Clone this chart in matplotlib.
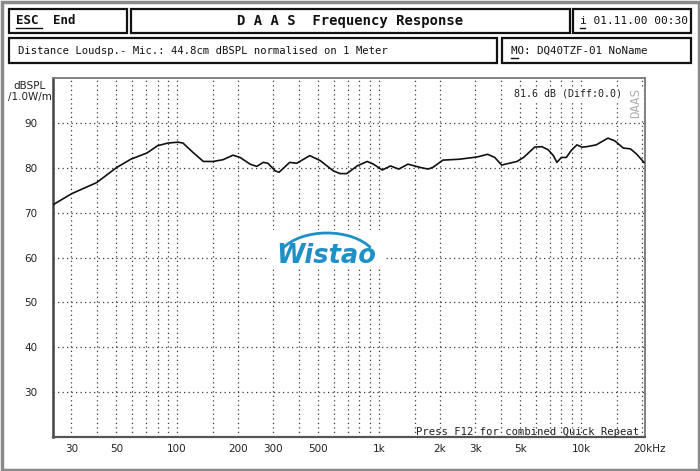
import matplotlib
matplotlib.use("Agg")
import matplotlib.pyplot as plt
from matplotlib.patches import Rectangle, Arc
from matplotlib.ticker import FixedLocator, NullFormatter
import matplotlib.transforms as mtransforms

# ---- data ----
freqs = [24.4, 30, 40, 50, 59, 71, 80, 90, 101, 107, 120, 135, 151, 169, 189,
         205, 230, 248, 267, 282, 306, 320, 361, 391, 454, 511, 594, 641, 693,
         779, 873, 938, 1037, 1140, 1252, 1390, 1590, 1750, 1850, 2070, 2500,
         3060, 3450, 3740, 4050, 4820, 5200, 5900, 6400, 6880, 7300, 7600, 8000,
         8460, 8930, 9550, 10100, 10700, 11900, 13600, 14700, 16200, 17600,
         18900, 20500]
spl = [71.8, 74.2, 76.7, 80.0, 81.9, 83.3, 84.9, 85.5, 85.7, 85.5, 83.4, 81.4,
       81.4, 81.8, 82.8, 82.3, 80.8, 80.3, 81.2, 81.0, 79.3, 79.0, 81.2, 81.0,
       82.7, 81.6, 79.3, 78.7, 78.7, 80.4, 81.4, 80.8, 79.5, 80.4, 79.7, 80.8,
       80.1, 79.7, 80.1, 81.7, 81.9, 82.4, 83.0, 82.3, 80.6, 81.4, 82.3, 84.6,
       84.7, 84.0, 82.7, 81.2, 82.3, 82.3, 83.8, 85.1, 84.6, 84.7, 85.1, 86.6,
       86.0, 84.4, 84.2, 83.0, 81.2]

x_major = [30, 50, 100, 200, 300, 500, 1000, 2000, 3000, 5000, 10000, 20000]
x_major_labels = ["30", "50", "100", "200", "300", "500", "1k", "2k", "3k",
                  "5k", "10k", "20kHz"]
x_minor = [40, 60, 70, 80, 90, 150, 400, 600, 700, 800, 900, 1500, 4000,
           6000, 7000, 8000, 9000, 15000]
y_ticks = [30, 40, 50, 60, 70, 80, 90]
y_tick_labels = ["30", "40", "50", "60", "70", "80", "90"]

W, H = 700, 471
fig = plt.figure(figsize=(7.0, 4.71), dpi=100)
fig.patch.set_facecolor("white")

# ---- plot axes ----
L, R, T, B = 53, 645, 78, 437
ax = fig.add_axes([L / W, 1 - B / H, (R - L) / W, (B - T) / H])
ax.semilogx(freqs, spl, color="#111111", lw=1.2, zorder=5)
ax.set_xlim(24.3, 20750)
ax.set_ylim(20, 100)

ax.xaxis.set_major_locator(FixedLocator(x_major))
ax.xaxis.set_minor_locator(FixedLocator(x_minor))
ax.set_xticklabels(x_major_labels)
ax.xaxis.set_minor_formatter(NullFormatter())
ax.set_yticks(y_ticks)
ax.set_yticklabels(y_tick_labels)

grid_kw = dict(color="#3a3a3a", linestyle=(0, (1, 2.6)), linewidth=0.9)
ax.grid(True, which="major", axis="both", **grid_kw)
ax.grid(True, which="minor", axis="x", **grid_kw)
ax.tick_params(axis="both", which="both", length=0, labelsize=7.5,
               labelcolor="#222222")
ax.tick_params(axis="y", pad=11)
ax.tick_params(axis="x", pad=5)
for s in ax.spines.values():
    s.set_color("#777777")
    s.set_linewidth(1.3)
ax.spines["left"].set_color("#444444")
ax.spines["left"].set_linewidth(1.8)
ax.spines["bottom"].set_color("#555555")
ax.spines["bottom"].set_linewidth(1.6)

# shift the "20kHz" label so "20k" sits on its tick
lab = ax.get_xticklabels()[-1]
lab.set_ha("left")
lab.set_transform(lab.get_transform() +
                  mtransforms.ScaledTranslation(-6 / 72, 0, fig.dpi_scale_trans))

# ---- overlay for frame, header and annotations (pixel coords) ----
ov = fig.add_axes([0, 0, 1, 1], zorder=10)
ov.set_xlim(0, W)
ov.set_ylim(H, 0)
ov.axis("off")
ov.patch.set_alpha(0)

ov.add_patch(Rectangle((1.5, 1.5), W - 3, H - 3, fill=False,
                       edgecolor="#8a8a8a", lw=2.5))

boxes = [(9, 9, 118, 24), (131, 9, 439, 24), (573, 9, 118, 24),
         (9, 38, 488, 25), (502, 38, 189, 25)]
for (bx, by, bw, bh) in boxes:
    ov.add_patch(Rectangle((bx, by), bw, bh, fill=False,
                           edgecolor="#111111", lw=1.6))

mono = "DejaVu Sans Mono"
ov.text(16, 21, "ESC", fontsize=9, fontweight="bold", family=mono,
        va="center", ha="left", color="#111111")
ov.plot([16, 42], [28, 28], color="#111111", lw=1)
ov.text(53, 21, "End", fontsize=9, fontweight="bold", family=mono,
        va="center", ha="left", color="#111111")
ov.text(350, 21, "D A A S  Frequency Response", fontsize=10,
        fontweight="bold", family=mono, va="center", ha="center",
        color="#111111")
ov.text(580, 21, "i 01.11.00 00:30", fontsize=8, family=mono,
        va="center", ha="left", color="#111111")
ov.plot([580, 585], [28, 28], color="#111111", lw=1)
ov.text(18, 50.5, "Distance Loudsp.- Mic.: 44.8cm dBSPL normalised on 1 Meter",
        fontsize=7.6, family=mono, va="center", ha="left", color="#111111")
ov.text(511, 50.5, "MO: DQ40TZF-01 NoName", fontsize=7.8, family=mono,
        va="center", ha="left", color="#111111")
ov.plot([511, 518], [58, 58], color="#111111", lw=1)

ov.text(30, 86, "dBSPL", fontsize=7.5, ha="center", va="center",
        color="#222222")
ov.text(30, 97, "/1.0W/m", fontsize=7.5, ha="center", va="center",
        color="#222222")

ov.text(568, 94, "81.6 dB (Diff:0.0)", fontsize=7.2, family=mono,
        ha="center", va="center", color="#222222",
        bbox=dict(facecolor="white", edgecolor="none", pad=0.5))
ov.text(636, 103, "DAAS", fontsize=9, family=mono, rotation=90,
        ha="center", va="center", color="#b0b0b0",
        bbox=dict(facecolor="white", edgecolor="none", pad=0.5))
ov.text(528, 432, "Press F12 for combined Quick Repeat", fontsize=7.6,
        family=mono, ha="center", va="center", color="#222222")

# logo watermark
ov.add_patch(Rectangle((268, 230), 116, 38, facecolor="white",
                       edgecolor="none"))
ov.add_patch(Arc((327, 262), 100, 58, theta1=198, theta2=342,
                 color="#1f8fc8", lw=2.0))
ov.text(326, 256, "Wistao", fontsize=18.5, fontweight="bold", style="italic",
        ha="center", va="center", color="#1f8fc8")

fig.savefig("out.png", dpi=100, facecolor="white")
